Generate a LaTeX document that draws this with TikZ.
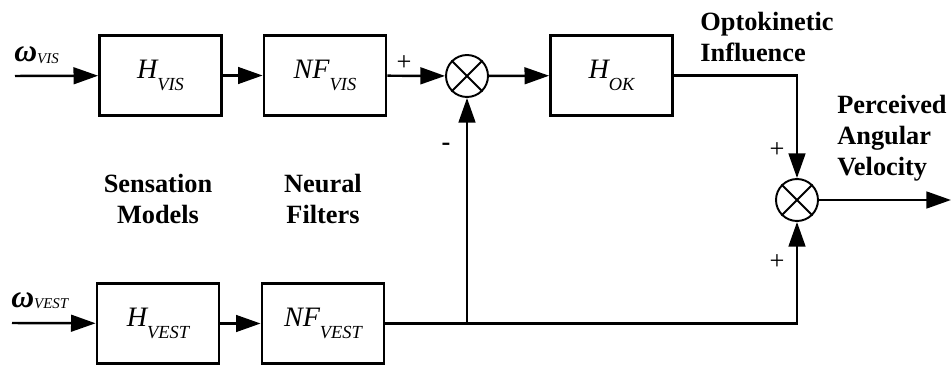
\documentclass[tikz,border=0pt]{standalone}
\usepackage{fontspec}
\setmainfont{Liberation Serif}
\usetikzlibrary{arrows.meta}
\tikzset{
    block/.style={draw, line width=1.6pt, minimum width=2.44cm, minimum height=1.6cm,
        inner sep=0pt, font=\fontsize{16}{16}\selectfont\itshape},
    sumnode/.style={draw, circle, line width=1.1pt, minimum size=0.84cm, inner sep=0pt},
    sig/.style={line width=1.4pt, -{Triangle[length=14pt,width=9.5pt]}},
    caption/.style={font=\fontsize{15}{17.6}\selectfont\bfseries, inner sep=0pt},
    sign/.style={font=\fontsize{15}{15}\selectfont, inner sep=0pt},
}
\newcommand{\lowsub}[1]{\raisebox{-7pt}{\fontsize{10.5}{10.5}\selectfont #1}}
\newcommand{\insig}[1]{{\fontsize{18}{18}\selectfont\textbf{\textit{ω}}}\raisebox{-0.6pt}{\fontsize{8.5}{8.5}\selectfont\itshape #1}}
\begin{document}
\begin{tikzpicture}[x=0.02cm,y=-0.02cm]
    \useasboundingbox (0,0) rectangle (951,368);
    % blocks
    \node[block] (hvis) at (160.5,75.5) {H\lowsub{VIS}};
    \node[block] (nfvis) at (325,75.5) {NF\lowsub{VIS}};
    \node[block] (hok) at (611.5,75.5) {H\lowsub{OK}};
    \node[block] (hvest) at (158,323.5) {H\lowsub{VEST}};
    \node[block] (nfvest) at (323,323.5) {NF\lowsub{VEST}};
    % summing points
    \node[sumnode] (sum1) at (467,76) {};
    \node[sumnode] (sum2) at (797,200) {};
    \foreach \s in {sum1,sum2} {
        \draw[line width=1.1pt] (\s.north east) -- (\s.south west);
        \draw[line width=1.1pt] (\s.north west) -- (\s.south east);
    }
    % inputs and output
    \coordinate (invis) at (15,76);
    \coordinate (invest) at (12,323);
    \coordinate (out) at (951,200);
    \coordinate (tap) at (sum1 |- nfvest.east);
    \node[anchor=base west, inner sep=0pt] (wvis) at (14,62) {\insig{VIS}};
    \node[anchor=base west, inner sep=0pt] (wvest) at (11,307) {\insig{VEST}};
    % signals
    \draw[sig] (invis) -- (hvis);
    \draw[sig] (hvis) -- (nfvis);
    \draw[sig] (nfvis) -- (sum1);
    \draw[sig] (sum1) -- (hok);
    \draw[sig] (hok.east) -| (sum2.north);
    \draw[sig] (invest) -- (hvest);
    \draw[sig] (hvest) -- (nfvest);
    \draw[sig] (nfvest.east) -| (sum2.south);
    \draw[sig] (tap) -- (sum1.south);
    \draw[sig] (sum2) -- (out);
    % signs
    \node[sign] (p1) at (404,63) {+};
    \node[sign, font=\fontsize{15}{15}\selectfont\bfseries] (m1) at (446,147) {-};
    \node[sign] (p2) at (777,150) {+};
    \node[sign] (p3) at (777,262) {+};
    % captions
    \node[caption, align=center] (sens) at (158,199) {Sensation\\Models};
    \node[caption, align=center] (filt) at (323,199) {Neural\\Filters};
    \node[caption, align=left, anchor=west] (opto) at (700,37) {Optokinetic\\Influence};
    \node[caption, align=left, anchor=west] (perc) at (837,138) {Perceived\\Angular\\Velocity};
\end{tikzpicture}
\end{document}
